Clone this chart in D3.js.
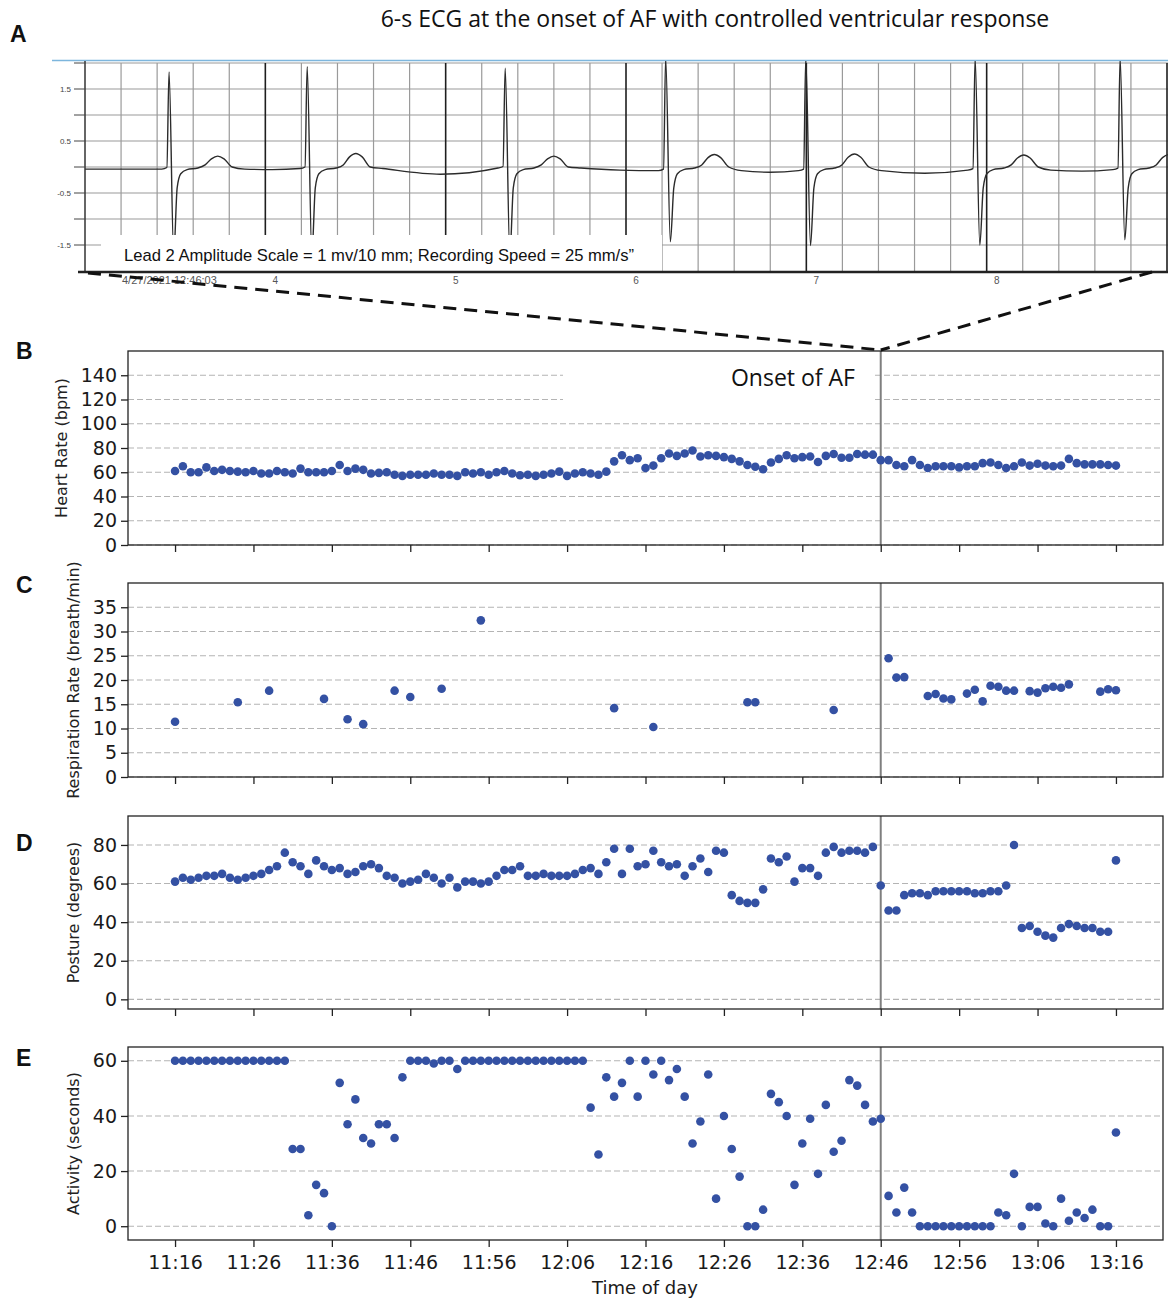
<!DOCTYPE html>
<html>
<head>
<meta charset="utf-8">
<script src="https://cdn.jsdelivr.net/npm/d3@7"></script>
<style>
  body { margin: 0; background: #fff; }
  svg { display: block; }
</style>
</head>
<body>
<div id="chart"></div>
<script>
////////////////////////////////////////////////////////////
//////////////////////// Data //////////////////////////////
////////////////////////////////////////////////////////////

// one reading per minute, starting 11:16
var startTime = "2021-04-27 11:16";
var onsetTime = "2021-04-27 12:46";

var tickLabels = ["11:16", "11:26", "11:36", "11:46", "11:56", "12:06", "12:16",
                  "12:26", "12:36", "12:46", "12:56", "13:06", "13:16"];

var heartRate = [61, 65, 60, 60, 64, 61, 62, 61, 60.5, 60, 61, 59, 59, 61, 60, 59, 63, 60, 60, 60,
                 61, 66, 61, 63, 62, 59, 59.5, 60, 58, 57, 58, 58, 58, 59, 58, 58, 57, 60, 59, 60,
                 58, 60, 61, 59, 57.5, 58, 57, 58, 59, 60.5, 57, 59, 60, 59, 58,
                 60.5, 69, 74, 70, 71.5, 63.5, 65.5, 71.5, 75.5, 73.5, 75.5, 78, 73, 74, 73.5,
                 72.5, 71, 69, 66, 64.5, 62.5, 68, 71, 74, 71.5, 72.5, 73, 68.5, 73.5, 75,
                 72, 72, 75, 74.5, 74.5, 70, 70, 66, 65, 70, 66, 63.5, 65, 65, 65,
                 64, 65, 65, 67.5, 68, 66, 63.5, 65, 68, 65.5, 67, 65.5, 65, 65.5, 71,
                 67.5, 66.5, 66.5, 66.5, 66, 65.5];

// respiration is only reported for some minutes: minute offset from 11:16 + value
var respMinute = [0, 8, 12, 19, 22, 24, 28, 30, 34, 39, 56, 61, 73, 74, 84,
                  91, 92, 93, 96, 97, 98, 99, 101, 102, 103, 104, 105, 106, 107,
                  109, 110, 111, 112, 113, 114, 118, 119, 120];
var respRate = [11.4, 15.4, 17.8, 16.1, 11.9, 10.9, 17.8, 16.5, 18.2, 32.3, 14.2, 10.3, 15.4, 15.4, 13.8,
                24.5, 20.5, 20.6, 16.7, 17.1, 16.2, 16.0, 17.2, 18.0, 15.6, 18.8, 18.6, 17.8, 17.8,
                17.7, 17.4, 18.3, 18.6, 18.4, 19.1, 17.6, 18.1, 17.9];

var posture = [61, 63, 62, 63, 64, 64, 65, 63, 62, 63, 64, 65, 67, 69, 76, 71, 69, 65, 72, 69,
               67, 68, 65, 66, 69, 70, 68, 64, 63, 60, 61, 62, 65, 63, 60, 63, 58, 61, 61, 60,
               61, 64, 67, 67, 69, 64, 64, 65, 64, 64, 64, 65, 67, 68, 65,
               71, 78, 65, 78, 69, 70, 77, 71, 69, 70, 64, 69, 73, 66, 77, 76, 54, 51, 50, 50,
               57, 73, 71, 74, 61, 68, 68, 64, 76, 79, 76, 77, 77, 76, 79, 59, 46, 46, 54, 55,
               55, 54, 56, 56, 56, 56, 56, 55, 55, 56, 56, 59, 80, 37, 38, 35, 33, 32, 37, 39,
               38, 37, 37, 35, 35, 72];

var activity = [60, 60, 60, 60, 60, 60, 60, 60, 60, 60, 60, 60, 60, 60, 60, 28, 28, 4, 15, 12,
                0, 52, 37, 46, 32, 30, 37, 37, 32, 54, 60, 60, 60, 59, 60, 60, 57, 60, 60, 60,
                60, 60, 60, 60, 60, 60, 60, 60, 60, 60, 60, 60, 60, 43, 26,
                54, 47, 52, 60, 47, 60, 55, 60, 53, 57, 47, 30, 38, 55, 10, 40, 28, 18, 0, 0,
                6, 48, 45, 40, 15, 30, 39, 19, 44, 27, 31, 53, 51, 44, 38, 39, 11, 5, 14, 5,
                0, 0, 0, 0, 0, 0, 0, 0, 0, 0, 5, 4, 19, 0, 7, 7, 1, 0, 10, 2,
                5, 3, 6, 0, 0, 34];

// ECG strip (seconds on the strip clock, mV)
var ecgRTimes = [3.466, 4.232, 5.33, 6.22, 6.997, 7.936, 8.74];
var ecgRAmp   = [1.83, 1.93, 1.90, 2.1, 2.1, 2.1, 2.1];
var ecgSAmp   = [-1.7, -1.7, -1.7, -1.44, -1.51, -1.50, -1.40];
var ecgTAmp   = [0.21, 0.26, 0.21, 0.24, 0.25, 0.23, 0.24];
var ecgBase   = [-0.04, -0.03, -0.02, -0.07, -0.07, -0.06, -0.05];
var ecgMidBase = [-0.05, -0.14, -0.06, -0.10, -0.12, -0.08];
var ecgSecondLabels = ["4", "5", "6", "7", "8"];
var ecgAmpLabels = ["1.5", "0.5", "-0.5", "-1.5"];

////////////////////////////////////////////////////////////
//////////////////////// Set-up ////////////////////////////
////////////////////////////////////////////////////////////

var width = 1168, height = 1298;
var dotColor = "#3451a3";
var tickFont = "'DejaVu Sans', sans-serif";

var svg = d3.select("#chart").append("svg")
    .attr("width", width)
    .attr("height", height)
    .attr("viewBox", "0 0 " + width + " " + height);

var parseTime = d3.timeParse("%Y-%m-%d %H:%M");
var t0 = parseTime(startTime);
var onset = parseTime(onsetTime);
var minuteAt = function (i) { return d3.timeMinute.offset(t0, i); };
var tickTimes = tickLabels.map(function (s) { return parseTime("2021-04-27 " + s); });

var x = d3.scaleTime()
    .domain([minuteAt(-6), minuteAt(126)])
    .range([128, 1163]);

function series(values) {
    return values.map(function (v, i) { return { t: minuteAt(i), v: v }; });
}

var panels = [
    { letter: "B", top: 351, bottom: 545, domain: [0, 160], ticks: d3.range(0, 141, 20),
      label: "Heart Rate (bpm)", labelX: 67, data: series(heartRate) },
    { letter: "C", top: 583, bottom: 777, domain: [0, 40], ticks: d3.range(0, 36, 5),
      label: "Respiration Rate (breath/min)", labelX: 79,
      data: respMinute.map(function (m, i) { return { t: minuteAt(m), v: respRate[i] }; }) },
    { letter: "D", top: 816, bottom: 1009, domain: [-5, 95], ticks: d3.range(0, 81, 20),
      label: "Posture (degrees)", labelX: 79, data: series(posture) },
    { letter: "E", top: 1047, bottom: 1240, domain: [-5, 65], ticks: d3.range(0, 61, 20),
      label: "Activity (seconds)", labelX: 79, data: series(activity) }
];

////////////////////////////////////////////////////////////
///////////////////// Panel A: ECG /////////////////////////
////////////////////////////////////////////////////////////

var xE = d3.scaleLinear().domain([3, 9]).range([85, 1167]);
var yE = d3.scaleLinear().domain([-2, 2]).range([271, 63]);

var ecg = svg.append("g").attr("class", "ecg");

ecg.append("text")
    .attr("x", 715).attr("y", 27)
    .attr("text-anchor", "middle")
    .style("font-family", "'Open Sans', sans-serif")
    .style("font-size", "23px")
    .style("fill", "#111")
    .text("6-s ECG at the onset of AF with controlled ventricular response");

// light blue border above the strip
ecg.append("line")
    .attr("x1", 52).attr("x2", 1168).attr("y1", 60.5).attr("y2", 60.5)
    .style("stroke", "#7db6dd").style("stroke-width", 1.6);

// small squares every 0.2 s, big ones every second
ecg.selectAll(".vgrid")
    .data(d3.range(3.2, 9.0, 0.2).filter(function (s) { return Math.abs(s - Math.round(s)) > 0.01; }))
    .enter().append("line")
    .attr("x1", function (d) { return xE(d); }).attr("x2", function (d) { return xE(d); })
    .attr("y1", yE(2)).attr("y2", yE(-2))
    .style("stroke", "#9a9a9a").style("stroke-width", 1.2);

ecg.selectAll(".hgrid")
    .data(d3.range(-1.5, 2.01, 0.5))
    .enter().append("line")
    .attr("x1", xE(3)).attr("x2", 1168)
    .attr("y1", function (d) { return yE(d); }).attr("y2", function (d) { return yE(d); })
    .style("stroke", "#9a9a9a").style("stroke-width", 1.2);

ecg.selectAll(".secgrid")
    .data(d3.range(4, 9.01, 1))
    .enter().append("line")
    .attr("x1", function (d) { return xE(d); }).attr("x2", function (d) { return xE(d); })
    .attr("y1", yE(2)).attr("y2", yE(-2))
    .style("stroke", "#1e1e1e").style("stroke-width", 1.6);

// build the trace from the beats
var ecgPts = [[3.0, ecgBase[0]]];
ecgRTimes.forEach(function (t, k) {
    var b = ecgBase[k], tA = ecgTAmp[k];
    if (k > 0) ecgPts.push([(ecgRTimes[k - 1] + 0.42 + t - 0.04) / 2, ecgMidBase[k - 1]]);
    ecgPts.push([t - 0.04, b], [t - 0.012, b + 0.03], [t, ecgRAmp[k]], [t + 0.026, ecgSAmp[k]],
        [t + 0.045, -0.4], [t + 0.065, -0.13], [t + 0.1, -0.05], [t + 0.16, -0.02],
        [t + 0.2, 0.04], [t + 0.235, tA * 0.75], [t + 0.27, tA], [t + 0.305, tA * 0.75],
        [t + 0.35, 0.0], [t + 0.42, b]);
});

svg.append("clipPath").attr("id", "ecgClip")
    .append("rect").attr("x", xE(3)).attr("y", 61).attr("width", xE(9) - xE(3) + 1).attr("height", 211);

ecg.append("path")
    .datum(ecgPts)
    .attr("clip-path", "url(#ecgClip)")
    .attr("d", d3.line()
        .x(function (d) { return xE(d[0]); })
        .y(function (d) { return yE(d[1]); })
        .curve(d3.curveMonotoneX))
    .style("fill", "none").style("stroke", "#2b2b2b").style("stroke-width", 1.4);

// amplitude axis
ecg.append("line")
    .attr("x1", xE(3)).attr("x2", xE(3)).attr("y1", 61).attr("y2", 272)
    .style("stroke", "#333").style("stroke-width", 1.5);
ecg.selectAll(".ytk")
    .data(d3.range(-1.5, 2.01, 0.5))
    .enter().append("line")
    .attr("x1", 74).attr("x2", xE(3))
    .attr("y1", function (d) { return yE(d); }).attr("y2", function (d) { return yE(d); })
    .style("stroke", "#444").style("stroke-width", 1);
ecg.selectAll(".ylab")
    .data(ecgAmpLabels)
    .enter().append("text")
    .attr("x", 71).attr("y", function (d) { return yE(+d) + 3; })
    .attr("text-anchor", "end")
    .style("font-family", "'Liberation Sans', Arial, sans-serif")
    .style("font-size", "8px").style("fill", "#444")
    .text(function (d) { return d; });

// white caption box
ecg.append("rect")
    .attr("x", 101).attr("y", 235).attr("width", 561).attr("height", 36)
    .style("fill", "#fff");
ecg.append("text")
    .attr("x", 124).attr("y", 261)
    .style("font-family", "'Liberation Sans', Arial, sans-serif")
    .style("font-size", "16.6px").style("fill", "#111")
    .text("Lead 2 Amplitude Scale = 1 mv/10 mm; Recording Speed = 25 mm/s\u201d");

ecg.append("line")
    .attr("x1", 78).attr("x2", 1168).attr("y1", 272).attr("y2", 272)
    .style("stroke", "#222").style("stroke-width", 2.5);

ecg.selectAll(".xlab")
    .data(ecgSecondLabels)
    .enter().append("text")
    .attr("x", function (d) { return xE(+d) + 10; }).attr("y", 284)
    .attr("text-anchor", "middle")
    .style("font-family", "'Liberation Sans', Arial, sans-serif")
    .style("font-size", "10px").style("fill", "#555")
    .text(function (d) { return d; });
ecg.append("text")
    .attr("x", 122).attr("y", 284)
    .style("font-family", "'Liberation Sans', Arial, sans-serif")
    .style("font-size", "11px").style("fill", "#555")
    .text("4/27/2021 12:46:03");

////////////////////////////////////////////////////////////
////////////////// Panels B - E: scatter ///////////////////
////////////////////////////////////////////////////////////

panels.forEach(function (p, pi) {
    var y = d3.scaleLinear().domain(p.domain).range([p.bottom, p.top]);
    var g = svg.append("g").attr("class", "panel panel" + p.letter);

    g.selectAll(".grid")
        .data(p.ticks)
        .enter().append("line")
        .attr("x1", x.range()[0]).attr("x2", x.range()[1])
        .attr("y1", function (d) { return y(d); }).attr("y2", function (d) { return y(d); })
        .style("stroke", "#b4b4b4").style("stroke-width", 1.1)
        .style("stroke-dasharray", "6,3");

    if (p.letter === "B") {
        g.append("rect")
            .attr("x", 563).attr("y", p.top + 1).attr("width", 309).attr("height", 58)
            .style("fill", "#fff");
        g.append("text")
            .attr("x", 855).attr("y", 386)
            .attr("text-anchor", "end")
            .style("font-family", "'Open Sans', sans-serif")
            .style("font-size", "23px").style("fill", "#111")
            .text("Onset of AF");
    }

    g.append("line")
        .attr("x1", x(onset)).attr("x2", x(onset))
        .attr("y1", p.top).attr("y2", p.bottom)
        .style("stroke", "#7f7f7f").style("stroke-width", 2);

    g.selectAll(".dot")
        .data(p.data)
        .enter().append("circle")
        .attr("cx", function (d) { return x(d.t); })
        .attr("cy", function (d) { return y(d.v); })
        .attr("r", 4.3)
        .style("fill", dotColor);

    g.append("rect")
        .attr("x", x.range()[0]).attr("y", p.top)
        .attr("width", x.range()[1] - x.range()[0]).attr("height", p.bottom - p.top)
        .style("fill", "none").style("stroke", "#222").style("stroke-width", 1.3);

    var yAxis = g.append("g")
        .attr("transform", "translate(" + x.range()[0] + ",0)")
        .call(d3.axisLeft(y).tickValues(p.ticks).tickSize(7).tickPadding(4));
    var xAxis = g.append("g")
        .attr("transform", "translate(0," + p.bottom + ")")
        .call(d3.axisBottom(x).tickValues(tickTimes).tickSize(7).tickPadding(9)
            .tickFormat(p.letter === "E" ? d3.timeFormat("%H:%M") : ""));

    [yAxis, xAxis].forEach(function (a) {
        a.select(".domain").remove();
        a.selectAll(".tick line").style("stroke", "#222").style("stroke-width", 1.3);
        a.selectAll(".tick text")
            .style("font-family", tickFont).style("font-size", "19px").style("fill", "#1a1a1a");
    });

    g.append("text")
        .attr("transform", "translate(" + p.labelX + "," + ((p.top + p.bottom) / 2) + ") rotate(-90)")
        .attr("text-anchor", "middle")
        .style("font-family", tickFont).style("font-size", "16px").style("fill", "#222")
        .text(p.label);
});

svg.append("text")
    .attr("x", 645).attr("y", 1294)
    .attr("text-anchor", "middle")
    .style("font-family", tickFont).style("font-size", "18px").style("fill", "#1a1a1a")
    .text("Time of day");

// dashed zoom lines from the strip to the onset
svg.selectAll(".zoomline")
    .data([[88, 273], [1152, 272]])
    .enter().append("line")
    .attr("x1", function (d) { return d[0]; }).attr("y1", function (d) { return d[1]; })
    .attr("x2", x(onset)).attr("y2", 350)
    .style("stroke", "#111").style("stroke-width", 3)
    .style("stroke-dasharray", "13,8");

// panel letters
var letterPos = [["A", 10, 42], ["B", 16, 359], ["C", 16, 593], ["D", 16, 851], ["E", 16, 1066]];
svg.selectAll(".letter")
    .data(letterPos)
    .enter().append("text")
    .attr("x", function (d) { return d[1]; }).attr("y", function (d) { return d[2]; })
    .style("font-family", "'Liberation Sans', Arial, sans-serif")
    .style("font-weight", "bold").style("font-size", "23px").style("fill", "#111")
    .text(function (d) { return d[0]; });
</script>
</body>
</html>
